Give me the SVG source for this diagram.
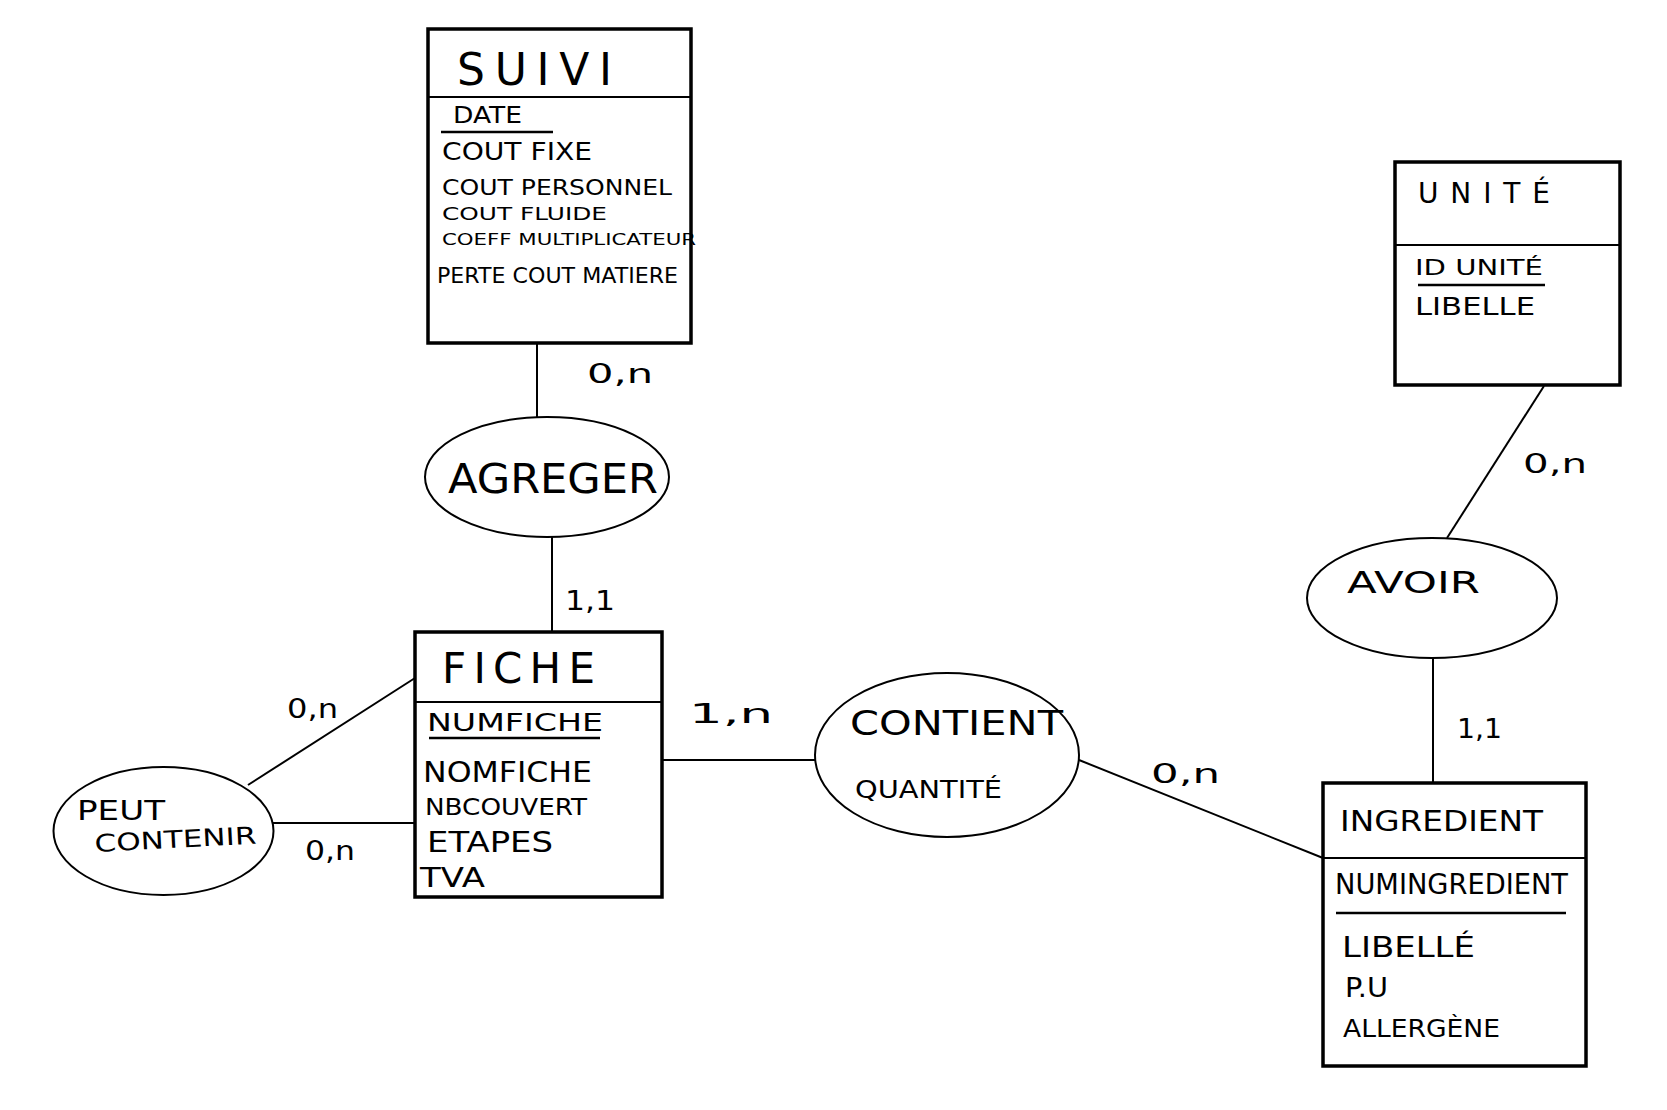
<svg xmlns="http://www.w3.org/2000/svg" width="1667" height="1110" viewBox="0 0 1667 1110">
<style>
.box{fill:#fff;stroke:#000;stroke-width:3.5}
.sep{stroke:#000;stroke-width:2}
.ul{stroke:#000;stroke-width:2.5}
.ell{fill:#fff;stroke:#000;stroke-width:2}
.con{stroke:#000;stroke-width:2;fill:none}
text{font-family:"DejaVu Sans","Liberation Sans",sans-serif;fill:#000;font-weight:normal}
.lbl{font-size:26px}
</style>
<rect width="1667" height="1110" fill="#fff"/>
<g id="connectors">
<line class="con" x1="537" y1="343" x2="537" y2="417"/>
<line class="con" x1="552" y1="537" x2="552" y2="632"/>
<line class="con" x1="415" y1="678" x2="248" y2="785"/>
<line class="con" x1="273" y1="823" x2="415" y2="823"/>
<line class="con" x1="662" y1="760" x2="815" y2="760"/>
<line class="con" x1="1079" y1="760" x2="1323" y2="858"/>
<line class="con" x1="1433" y1="658" x2="1433" y2="783"/>
<line class="con" x1="1447" y1="538" x2="1544" y2="386"/>
<text class="lbl" x="587" y="383" textLength="66" lengthAdjust="spacingAndGlyphs">0,n</text>
<text class="lbl" x="565" y="610" textLength="50" lengthAdjust="spacingAndGlyphs">1,1</text>
<text class="lbl" x="287" y="718" textLength="51" lengthAdjust="spacingAndGlyphs">0,n</text>
<text class="lbl" x="305" y="860" textLength="50" lengthAdjust="spacingAndGlyphs">0,n</text>
<text class="lbl" x="689" y="723" font-size="32" textLength="84" lengthAdjust="spacingAndGlyphs">1,n</text>
<text class="lbl" x="1151" y="783" textLength="69" lengthAdjust="spacingAndGlyphs">0,n</text>
<text class="lbl" x="1523" y="473" textLength="64" lengthAdjust="spacingAndGlyphs">0,n</text>
<text class="lbl" x="1457" y="738" textLength="45" lengthAdjust="spacingAndGlyphs">1,1</text>
</g>
<g id="suivi">
<rect class="box" x="428" y="29" width="263" height="314"/>
<line class="sep" x1="428" y1="97" x2="691" y2="97"/>
<text x="457" y="85" font-size="44" textLength="155" lengthAdjust="spacing">SUIVI</text>
<text x="453" y="123" font-size="23" textLength="69" lengthAdjust="spacingAndGlyphs">DATE</text>
<line class="ul" x1="441" y1="132" x2="553" y2="132"/>
<text x="442" y="160" font-size="25" textLength="150" lengthAdjust="spacingAndGlyphs">COUT FIXE</text>
<text x="442" y="195" font-size="22" textLength="230" lengthAdjust="spacingAndGlyphs">COUT PERSONNEL</text>
<text x="442" y="220" font-size="18" textLength="165" lengthAdjust="spacingAndGlyphs">COUT FLUIDE</text>
<text x="442" y="245" font-size="16" textLength="254" lengthAdjust="spacingAndGlyphs">COEFF MULTIPLICATEUR</text>
<text x="437" y="283" font-size="22" textLength="241" lengthAdjust="spacingAndGlyphs">PERTE COUT MATIERE</text>
</g>
<g id="agreger">
<ellipse class="ell" cx="547" cy="477" rx="122" ry="60"/>
<text x="448" y="493" font-size="40" textLength="210" lengthAdjust="spacingAndGlyphs">AGREGER</text>
</g>
<g id="fiche">
<rect class="box" x="415" y="632" width="247" height="265"/>
<line class="sep" x1="415" y1="702" x2="662" y2="702"/>
<text x="442" y="683" font-size="42" textLength="153" lengthAdjust="spacing">FICHE</text>
<text x="427" y="731" font-size="25" textLength="176" lengthAdjust="spacingAndGlyphs">NUMFICHE</text>
<line class="ul" x1="429" y1="738" x2="600" y2="738"/>
<text x="423" y="782" font-size="28" textLength="169" lengthAdjust="spacingAndGlyphs">NOMFICHE</text>
<text x="425" y="815" font-size="23" textLength="162" lengthAdjust="spacingAndGlyphs">NBCOUVERT</text>
<text x="427" y="852" font-size="28" textLength="126" lengthAdjust="spacingAndGlyphs">ETAPES</text>
<text x="420" y="887" font-size="26" textLength="65" lengthAdjust="spacingAndGlyphs">TVA</text>
</g>
<g id="peut-contenir">
<ellipse class="ell" cx="163.5" cy="831" rx="110" ry="64"/>
<text x="77" y="820" font-size="26" textLength="88" lengthAdjust="spacingAndGlyphs">PEUT</text>
<text x="95" y="852" font-size="24" textLength="162" lengthAdjust="spacingAndGlyphs" transform="rotate(-3 95 852)">CONTENIR</text>
</g>
<g id="contient">
<ellipse class="ell" cx="947" cy="755" rx="132" ry="82"/>
<text x="850" y="735" font-size="34" textLength="213" lengthAdjust="spacingAndGlyphs">CONTIENT</text>
<text x="855" y="798" font-size="24" textLength="147" lengthAdjust="spacingAndGlyphs">QUANTITÉ</text>
</g>
<g id="ingredient">
<rect class="box" x="1323" y="783" width="263" height="283"/>
<line class="sep" x1="1323" y1="858" x2="1586" y2="858"/>
<text x="1340" y="831" font-size="29" textLength="203" lengthAdjust="spacingAndGlyphs">INGREDIENT</text>
<text x="1335" y="894" font-size="29" textLength="233" lengthAdjust="spacingAndGlyphs">NUMINGREDIENT</text>
<line class="ul" x1="1336" y1="913" x2="1566" y2="913"/>
<text x="1342" y="957" font-size="28" textLength="133" lengthAdjust="spacingAndGlyphs">LIBELLÉ</text>
<text x="1345" y="997" font-size="26" textLength="43" lengthAdjust="spacingAndGlyphs">P.U</text>
<text x="1343" y="1037" font-size="25" textLength="157" lengthAdjust="spacingAndGlyphs">ALLERGÈNE</text>
</g>
<g id="avoir">
<ellipse class="ell" cx="1432" cy="598" rx="125" ry="60"/>
<text x="1347" y="593" font-size="30" textLength="133" lengthAdjust="spacingAndGlyphs">AVOIR</text>
</g>
<g id="unite">
<rect class="box" x="1395" y="162" width="225" height="223"/>
<line class="sep" x1="1395" y1="245" x2="1620" y2="245"/>
<text x="1418" y="203" font-size="28" textLength="132" lengthAdjust="spacing">UNITÉ</text>
<text x="1415" y="275" font-size="22" textLength="128" lengthAdjust="spacingAndGlyphs">ID UNITÉ</text>
<line class="ul" x1="1418" y1="285" x2="1545" y2="285"/>
<text x="1415" y="315" font-size="25" textLength="120" lengthAdjust="spacingAndGlyphs">LIBELLE</text>
</g>
</svg>
